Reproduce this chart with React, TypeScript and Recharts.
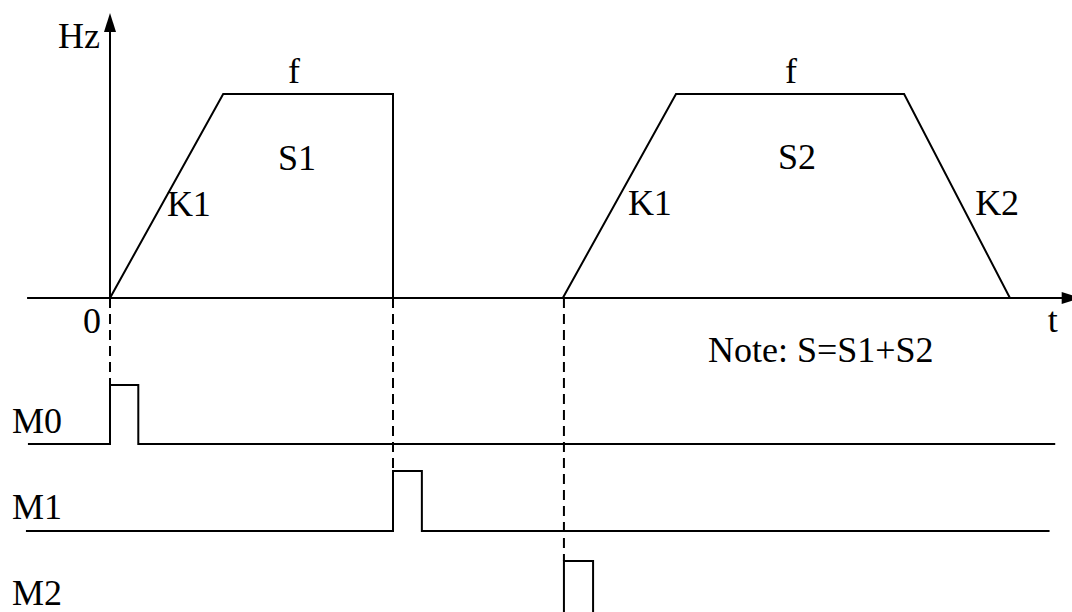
import { ComposedChart, Line, Scatter, XAxis, YAxis } from "recharts"

const W = 1072
const H = 612
// where t=0, Hz=0 lands in the picture and how big a unit is
const ORIGIN_X = 110
const ORIGIN_Y = 298
const PX_PER_T = 28.3
const PX_PER_HZ = 204

// frequency profiles (Hz as a fraction of f)
const move1T = [0, 4, 10, 10]
const move1Hz = [0, 1, 1, 0]
const move2T = [16, 20, 28.06, 31.8]
const move2Hz = [0, 1, 1, 0]

// pulse outputs M0..M2
const signalNames = ["M0", "M1", "M2"]
const signalStart = [-2.9, -2.97, -2.97]
const signalOn = [0, 10, 16.04]
const signalOff = [1, 11.02, 17.07]
const signalEnd = [33.4, 33.2, 33.2]
const laneLow = [-0.716, -1.142, -1.583]
const laneHigh = [-0.426, -0.848, -1.289]

// axis extents
const yAxisTop = 1.397
const xAxisStart = -2.93
const xAxisTip = 34.3

const labels = [
  { text: "Hz", t: -1.84, y: 1.225 },
  { text: "f", t: 6.29, y: 1.054 },
  { text: "S1", t: 5.94, y: 0.627 },
  { text: "K1", t: 2.01, y: 0.402 },
  { text: "f", t: 23.85, y: 1.054 },
  { text: "S2", t: 23.6, y: 0.632 },
  { text: "K1", t: 18.3, y: 0.407 },
  { text: "K2", t: 30.57, y: 0.407 },
  { text: "0", t: -0.95, y: -0.172 },
  { text: "t", t: 33.14, y: -0.167 },
  { text: "Note: S=S1+S2", t: 21.13, y: -0.314 },
  { text: "M0", t: -3.46, y: -0.662 },
  { text: "M1", t: -3.46, y: -1.083 },
  { text: "M2", t: -3.46, y: -1.505 },
]

const toPoints = (ts: number[], ys: number[]) => ts.map((t, i) => ({ t, y: ys[i] }))

const signals = signalNames.map((name, i) => ({
  name,
  data: toPoints(
    [signalStart[i], signalOn[i], signalOn[i], signalOff[i], signalOff[i], signalEnd[i]],
    [laneLow[i], laneLow[i], laneHigh[i], laneHigh[i], laneLow[i], laneLow[i]]
  ),
  guide: toPoints([signalOn[i], signalOn[i]], [0, laneHigh[i]]),
}))

const FONT = "Liberation Serif"

const UpArrow = (p: any) => (
  <polygon points={`${p.cx},${p.cy} ${p.cx - 6},${p.cy + 19} ${p.cx + 6},${p.cy + 19}`} fill="#000" />
)
const RightArrow = (p: any) => (
  <polygon points={`${p.cx},${p.cy} ${p.cx - 19},${p.cy - 6} ${p.cx - 19},${p.cy + 6}`} fill="#000" />
)
const TextMark = (p: any) => (
  <text x={p.cx} y={p.cy} fill="#000" style={{ fontFamily: FONT, fontSize: 36 }}>
    {p.payload.text}
  </text>
)

const line = { stroke: "#000", strokeWidth: 2, dot: false, activeDot: false, isAnimationActive: false } as const

export default function App() {
  return (
    <div style={{ position: "absolute", left: 0, top: 0, background: "#fff", fontFamily: FONT }}>
      <ComposedChart width={W} height={H} margin={{ top: 0, right: 0, bottom: 0, left: 0 }}>
        <XAxis
          type="number"
          dataKey="t"
          hide
          allowDataOverflow
          domain={[-ORIGIN_X / PX_PER_T, (W - ORIGIN_X) / PX_PER_T]}
        />
        <YAxis
          type="number"
          dataKey="y"
          hide
          allowDataOverflow
          domain={[-(H - ORIGIN_Y) / PX_PER_HZ, ORIGIN_Y / PX_PER_HZ]}
        />
        <Line {...line} type="linear" dataKey="y" data={toPoints([0, 0], [0, yAxisTop - 0.05])} />
        <Line {...line} type="linear" dataKey="y" data={toPoints([xAxisStart, xAxisTip - 0.3], [0, 0])} />
        <Line {...line} type="linear" dataKey="y" data={toPoints(move1T, move1Hz)} />
        <Line {...line} type="linear" dataKey="y" data={toPoints(move2T, move2Hz)} />
        {signals.map((s) => (
          <Line key={s.name} {...line} type="linear" dataKey="y" data={s.data} />
        ))}
        {signals.map((s) => (
          <Line key={s.name + "g"} {...line} type="linear" dataKey="y" data={s.guide} strokeDasharray="10 6" />
        ))}
        <Scatter dataKey="y" data={[{ t: 0, y: yAxisTop }]} shape={UpArrow} isAnimationActive={false} />
        <Scatter dataKey="y" data={[{ t: xAxisTip, y: 0 }]} shape={RightArrow} isAnimationActive={false} />
        <Scatter dataKey="y" data={labels} shape={TextMark} isAnimationActive={false} />
      </ComposedChart>
    </div>
  )
}
